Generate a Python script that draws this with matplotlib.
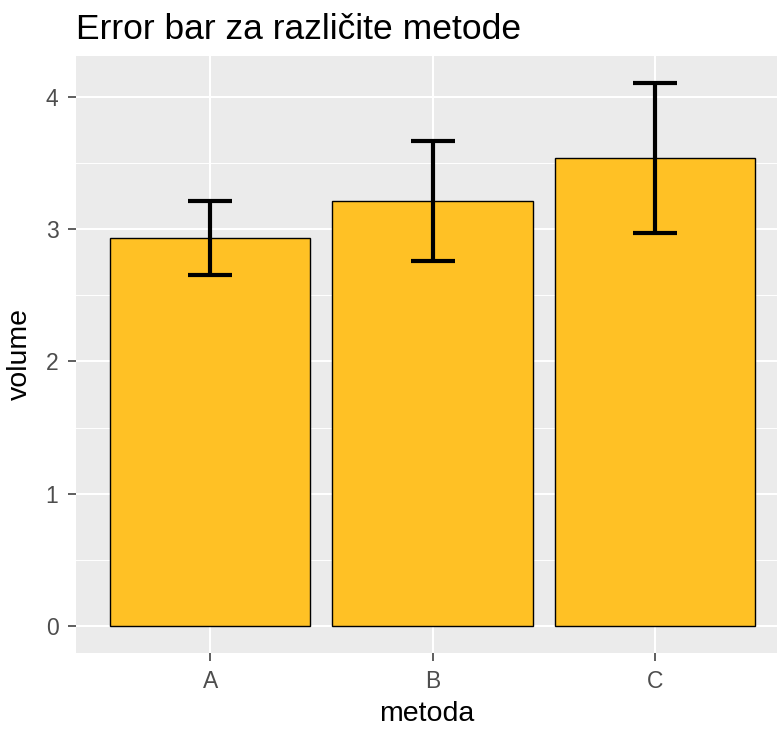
import matplotlib.pyplot as plt
from matplotlib.ticker import MultipleLocator

metode = ['A', 'B', 'C']
volume = [2.935, 3.215, 3.54]
greska = [0.28, 0.452, 0.565]

plt.rcParams['font.family'] = ['Liberation Sans', 'DejaVu Sans']

fig = plt.figure(figsize=(7.77, 7.3), dpi=100)
ax = fig.add_axes([75.5 / 777, 77 / 730, 1 - 75.5 / 777, (653 - 56) / 730])

x = [1, 2, 3]
ax.set_facecolor('#EBEBEB')
ax.bar(x, volume, width=0.9, color='#FFC125', edgecolor='black', linewidth=1.0, zorder=3)
ax.errorbar(x, volume, yerr=greska, fmt='none', ecolor='black', elinewidth=3.0,
            capsize=15.8, capthick=3.0, zorder=4)

ax.set_xlim(0.395, 3.548)
ax.set_ylim(-0.205, 4.31)
ax.set_xticks(x)
ax.set_xticklabels(metode)
ax.yaxis.set_major_locator(MultipleLocator(1))
ax.yaxis.set_minor_locator(MultipleLocator(0.5))

ax.grid(which='major', color='white', linewidth=1.5, zorder=0)
ax.grid(which='minor', axis='y', color='white', linewidth=0.7, zorder=0)
ax.set_axisbelow(True)
for s in ax.spines.values():
    s.set_visible(False)

ax.tick_params(which='major', length=5.8, width=1.1, color='#333333', labelcolor='#4D4D4D',
               labelsize=16.5, pad=6.5)
ax.tick_params(which='minor', length=0)

ax.set_xlabel('metoda', fontsize=20.5, labelpad=5.5)
ax.set_ylabel('volume', fontsize=20.5, labelpad=9)
ax.set_title('Error bar za različite metode', fontsize=25.5, loc='left', pad=12)

fig.savefig('out.png', dpi=100)
